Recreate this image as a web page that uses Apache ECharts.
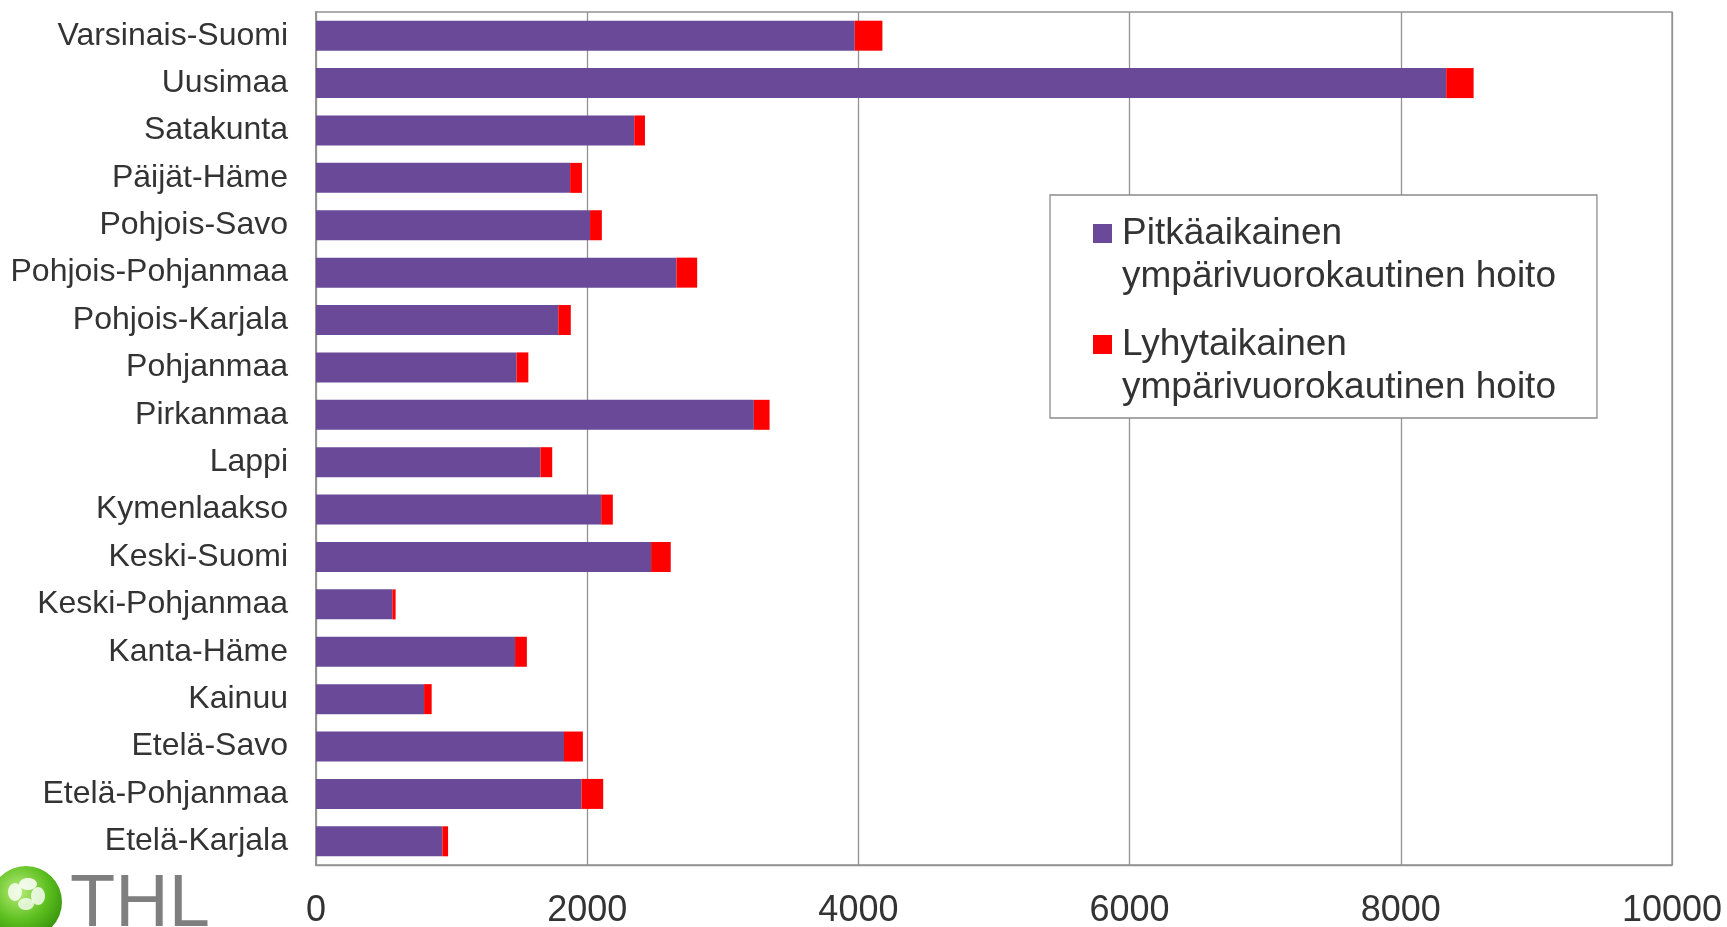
<!DOCTYPE html>
<html>
<head>
<meta charset="utf-8">
<script src="https://cdn.jsdelivr.net/npm/echarts@6/dist/echarts.min.js"></script>
<style>
html,body{margin:0;padding:0;background:#fff;}
#chart{width:1727px;height:927px;}
</style>
</head>
<body>
<div id="chart"></div>
<script>
// Categories listed bottom-to-top (category axis starts at the bottom)
const categories = [
  'Etelä-Karjala','Etelä-Pohjanmaa','Etelä-Savo','Kainuu','Kanta-Häme',
  'Keski-Pohjanmaa','Keski-Suomi','Kymenlaakso','Lappi','Pirkanmaa',
  'Pohjanmaa','Pohjois-Karjala','Pohjois-Pohjanmaa','Pohjois-Savo',
  'Päijät-Häme','Satakunta','Uusimaa','Varsinais-Suomi'
];
const longTermName = 'Pitkäaikainen\nympärivuorokautinen hoito';
const shortTermName = 'Lyhytaikainen\nympärivuorokautinen hoito';
const longTerm = [
  932, 1958, 1829, 797, 1468,
  563, 2471, 2103, 1655, 3229,
  1479, 1787, 2658, 2021,
  1874, 2347, 8335, 3973
];
const shortTerm = [
  42, 160, 139, 56, 87,
  24, 145, 86, 87, 116,
  87, 92, 153, 87,
  87, 79, 202, 204
];
const xTicks = { min: 0, max: 10000, interval: 2000 };

const FONT = "'Liberation Sans', Arial, sans-serif";
const chart = echarts.init(document.getElementById('chart'), null, {renderer: 'canvas'});

const legendIcon = 'path://M0,0L24,0L24,0.01L0,0.01Z M0,12L19,12L19,31L0,31Z M0,85.99L24,85.99L24,86L0,86Z';

chart.setOption({
  animation: false,
  backgroundColor: '#ffffff',
  grid: {
    left: 316, right: 55, top: 12, bottom: 62,
    outerBoundsMode: 'none',
    show: true, borderColor: '#929292', borderWidth: 1.3, backgroundColor: 'transparent'
  },
  legend: {
    orient: 'vertical',
    left: 1050, top: 195,
    padding: [17, 41, 9, 43],
    itemGap: 25,
    itemWidth: 24, itemHeight: 86,
    icon: legendIcon,
    borderColor: '#8c8c8c', borderWidth: 1.3,
    backgroundColor: '#ffffff',
    textStyle: { fontFamily: FONT, fontSize: 37, lineHeight: 43, color: '#333333' },
    data: [longTermName, shortTermName]
  },
  xAxis: {
    type: 'value',
    min: xTicks.min, max: xTicks.max, interval: xTicks.interval,
    axisLine: { show: true, lineStyle: { color: '#929292', width: 1.3 } },
    axisTick: { show: false },
    splitLine: { show: true, lineStyle: { color: '#929292', width: 1.3 } },
    axisLabel: {
      fontFamily: FONT, fontSize: 36, color: '#333333', margin: 28,
      formatter: function (v) { return String(v); }
    }
  },
  yAxis: {
    type: 'category',
    data: categories,
    axisLine: { show: true, lineStyle: { color: '#929292', width: 1.8 } },
    axisTick: { show: false },
    axisLabel: { fontFamily: FONT, fontSize: 32, color: '#333333', margin: 28 }
  },
  series: [
    {
      name: longTermName, type: 'bar', stack: 'total', barWidth: 30,
      itemStyle: { color: '#6A4A98' },
      data: longTerm
    },
    {
      name: shortTermName, type: 'bar', stack: 'total', barWidth: 30,
      itemStyle: { color: '#FF0000' },
      data: shortTerm
    }
  ],
  graphic: [
    {
      type: 'circle', left: -10, top: 866, z: 10,
      shape: { r: 36 },
      style: {
        fill: new echarts.graphic.RadialGradient(0.4, 0.35, 0.75, [
          { offset: 0, color: '#b8ec7a' },
          { offset: 0.55, color: '#5cbf1e' },
          { offset: 1, color: '#2f8a0a' }
        ])
      }
    },
    { type: 'ellipse', z: 11, shape: { cx: 28, cy: 884, rx: 9, ry: 6 }, style: { fill: 'rgba(255,255,255,0.85)' } },
    { type: 'ellipse', z: 11, shape: { cx: 15, cy: 892, rx: 7, ry: 9 }, style: { fill: 'rgba(255,255,255,0.8)' } },
    { type: 'ellipse', z: 11, shape: { cx: 38, cy: 896, rx: 7, ry: 9 }, style: { fill: 'rgba(255,255,255,0.8)' } },
    { type: 'ellipse', z: 11, shape: { cx: 26, cy: 904, rx: 8, ry: 6 }, style: { fill: 'rgba(255,255,255,0.75)' } },
    {
      type: 'text', left: 70, top: 869, z: 10,
      style: { text: 'THL', fontFamily: FONT, fontSize: 74, fill: '#7f7f7f' }
    }
  ]
});
</script>
</body>
</html>
